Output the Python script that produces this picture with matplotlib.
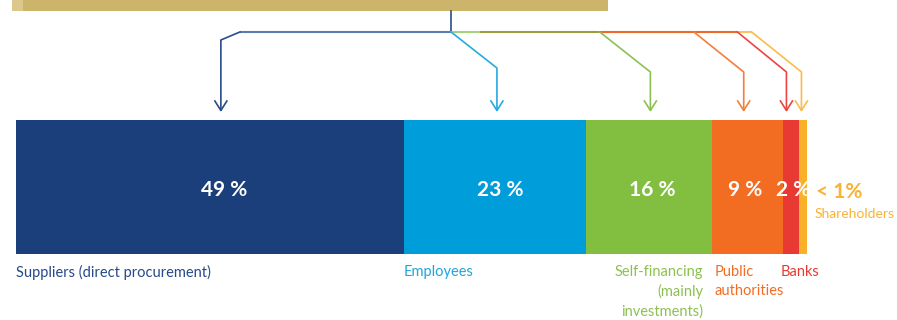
import numpy as np
import matplotlib
matplotlib.use("Agg")
import matplotlib.pyplot as plt

plt.rcParams['font.family'] = ['Lato', 'DejaVu Sans']

# shares of value added (%)
categories = ["Suppliers (direct procurement)", "Employees",
              "Self-financing\n(mainly\ninvestments)", "Public\nauthorities",
              "Banks", "Shareholders"]
shares = [49, 23, 16, 9, 2, 1]
share_labels = ["49 %", "23 %", "16 %", "9 %", "2 %", "< 1%"]

bar_colors = ["#1b3f7a", "#009ddb", "#82bf41", "#f26c22", "#e83a32", "#fbb029"]
text_colors = ["#25498a", "#1ea5de", "#8cc152", "#f26c22", "#e83a32", "#f9b233"]
branch_colors = ["#2a4d87", "#29a9e0", "#8cc152", "#f47f3b", "#ec4541", "#fbbb49"]

# layout (x in % of the bar, y in pixels from the top)
nudge = [1.4, 0.3, 0.2, -0.5, -0.6, -0.2]
branch_start = [28.3, 55.0, 73.8, 85.7, 91.2, 93.0]
px = 7.91  # pixels per percent

fig = plt.figure(figsize=(8.97, 3.2), dpi=100)
ax = fig.add_axes([0, 0, 1, 1])
ax.set_xlim(-16 / px, (897 - 16) / px)
ax.set_ylim(320, 0)
ax.axis("off")

left = np.concatenate([[0], np.cumsum(shares)[:-1]])
centers = left + np.array(shares) / 2
ax.barh(187, shares, left=left, height=134, color=bar_colors, linewidth=0)

# gold header bar
ax.barh(5.5, 585 / px, left=(23 - 16) / px, height=11, color="#cdb46b", linewidth=0)
ax.barh(5.5, 11 / px, left=(12 - 16) / px, height=11, color="#dcc88c", linewidth=0)

lw = 1.2
# trunk + distribution line
trunk = branch_start[1]
ax.plot([trunk, trunk], [11, 32], color="#2a4d87", lw=lw)
line_segs = [(branch_start[0], trunk, "#5b7db0"),
             (trunk, 58.7, "#a6d27a"),
             (58.7, branch_start[2], "#9e9d3c"),
             (branch_start[2], branch_start[4], "#ee6a2c"),
             (branch_start[4], branch_start[5], "#fbc35e")]
for a, b, c in line_segs:
    ax.plot([a, b], [32, 32], color=c, lw=1.5, solid_capstyle="butt")

arrow_x = centers + np.array(nudge)
hw = 6 / px
for i, x in enumerate(arrow_x):
    c = branch_colors[i]
    bend_y = 40 if i == 0 else (68 if i == 1 else 72)
    ax.plot([branch_start[i], x, x], [32, bend_y, 110], color=c, lw=lw)
    ax.plot([x - hw, x, x + hw], [101, 110.5, 101], color=c, lw=lw)

# value labels
for i in range(5):
    ax.text(arrow_x[i] + (0.4 if i < 2 else 0.2) + (0.6 if i == 4 else 0), 190,
            share_labels[i], color="white", fontsize=15, fontweight="bold",
            ha="center", va="center")
ax.text((816 - 16) / px, 192, share_labels[5], color=text_colors[5], fontsize=15,
        fontweight="bold", ha="left", va="center")
ax.text((815 - 16) / px, 214, categories[5], color=text_colors[5], fontsize=10,
        ha="left", va="center")

# category labels
lab_kw = dict(fontsize=10.5, va="top", linespacing=1.45)
ax.text(left[0], 265, categories[0], color=text_colors[0], ha="left", **lab_kw)
ax.text(left[1], 265, categories[1], color=text_colors[1], ha="left", **lab_kw)
ax.text(left[3] - 1.1, 265, categories[2], color=text_colors[2], ha="right", **lab_kw)
ax.text(left[3] + 0.3, 265, categories[3], color=text_colors[3], ha="left", **lab_kw)
ax.text(left[4] - 0.3, 265, categories[4], color=text_colors[4], ha="left", **lab_kw)

fig.savefig("out.png", dpi=100)
